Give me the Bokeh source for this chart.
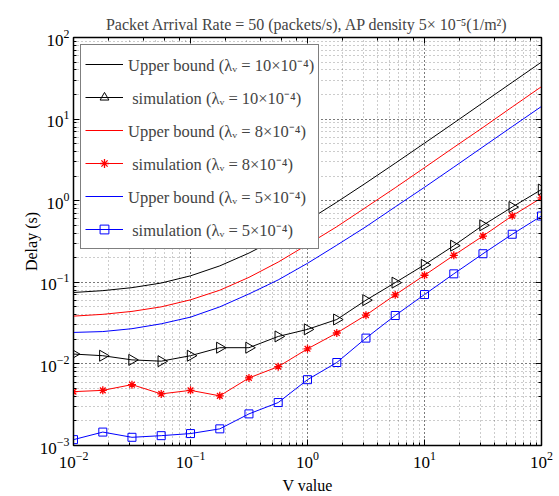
from bokeh.plotting import figure
from bokeh.models import (Range1d, LogAxis, LogTicker, CustomJSTickFormatter,
                          Legend, LegendItem)
from bokeh.embed import file_html
from bokeh.resources import INLINE
import numpy as np

# ---- data ----
V = [0.01, 0.0178, 0.0316, 0.0562, 0.1, 0.178, 0.316, 0.562, 1.0,
     1.78, 3.16, 5.62, 10.0, 17.8, 31.6, 56.2, 100.0]

ub_10 = [0.075, 0.079, 0.086, 0.098, 0.12, 0.159, 0.228, 0.35, 0.57,
         0.96, 1.65, 2.88, 5.07, 8.96, 15.9, 28.2, 50.0]
ub_8 = [0.0385, 0.0405, 0.044, 0.050, 0.061, 0.080, 0.115, 0.177, 0.29,
        0.48, 0.83, 1.44, 2.54, 4.5, 7.9, 14.1, 25.0]
ub_5 = [0.0243, 0.0249, 0.027, 0.031, 0.0374, 0.050, 0.072, 0.107, 0.171,
        0.285, 0.48, 0.84, 1.46, 2.58, 4.57, 8.1, 14.3]

sim_10 = [0.0132, 0.0126, 0.0112, 0.0108, 0.0126, 0.0158, 0.0158, 0.0217, 0.0265,
          0.035, 0.0604, 0.099, 0.164, 0.281, 0.50, 0.836, 1.37]
sim_8 = [0.00457, 0.00474, 0.00557, 0.00429, 0.00474, 0.00406, 0.00673, 0.00925, 0.0153,
         0.0239, 0.0396, 0.0702, 0.122, 0.214, 0.369, 0.653, 1.084]
sim_5 = [0.00118, 0.00146, 0.00126, 0.00132, 0.00140, 0.00160, 0.00244, 0.00336, 0.00641,
         0.0104, 0.0207, 0.0392, 0.0708, 0.127, 0.224, 0.388, 0.649]

labels = ["Upper bound (\u03bb\u1d65 = 10\u00d710\u207b\u2074)",
          " simulation (\u03bb\u1d65 = 10\u00d710\u207b\u2074)",
          "Upper bound (\u03bb\u1d65 = 8\u00d710\u207b\u2074)",
          " simulation (\u03bb\u1d65 = 8\u00d710\u207b\u2074)",
          "Upper bound (\u03bb\u1d65 = 5\u00d710\u207b\u2074)",
          " simulation (\u03bb\u1d65 = 5\u00d710\u207b\u2074)"]

title_text = "Packet Arrival Rate = 50 (packets/s), AP density 5\u00d7 10\u207b\u2075(1/m\u00b2)"

FONT = "Liberation Serif"

p = figure(width=559, height=496, x_axis_type="log", y_axis_type="log",
           x_range=Range1d(1e-2, 1e2), y_range=Range1d(1e-3, 1e2),
           output_backend="svg", toolbar_location=None,
           min_border_left=73, min_border_right=18,
           min_border_top=37, min_border_bottom=50)

p.title.text = title_text
p.title.align = "center"
p.title.text_font = FONT
p.title.text_font_size = "16px"
p.title.text_font_style = "normal"
p.title.offset = 0

p.outline_line_color = "black"
p.outline_line_width = 1.5
p.background_fill_color = "white"
p.border_fill_color = "white"

for ax in (p.xaxis[0], p.yaxis[0]):
    ax.major_label_text_font = FONT
    ax.major_label_text_font_size = "17px"
    ax.axis_label_text_font = FONT
    ax.axis_label_text_font_size = "16px"
    ax.axis_label_text_font_style = "normal"
    ax.major_tick_in = 6
    ax.major_tick_out = 0
    ax.minor_tick_in = 3
    ax.minor_tick_out = 0
    ax.axis_line_color = "black"
    ax.major_label_text_color = "black"
    ax.axis_label_text_color = "black"

p.xaxis.axis_label = "V value"
p.yaxis.axis_label = "Delay (s)"
p.xaxis.major_label_standoff = 6
p.xaxis.axis_label_standoff = 6
p.yaxis.major_label_standoff = 4
p.yaxis.axis_label_standoff = -3

blank = CustomJSTickFormatter(code="return ''")
top = LogAxis(ticker=LogTicker(), formatter=blank, major_tick_in=6, major_tick_out=0,
              minor_tick_in=3, minor_tick_out=0, axis_line_color="black")
right = LogAxis(ticker=LogTicker(), formatter=blank, major_tick_in=6, major_tick_out=0,
                minor_tick_in=3, minor_tick_out=0, axis_line_color="black")
p.add_layout(top, "above")
p.add_layout(right, "right")

for g in (p.xgrid[0], p.ygrid[0]):
    g.grid_line_color = "black"
    g.grid_line_alpha = 0.5
    g.grid_line_dash = "1 3"
    g.minor_grid_line_color = "black"
    g.minor_grid_line_alpha = 0.4
    g.minor_grid_line_dash = "1 3"

items = []
r = p.line(V, ub_10, line_color="black", line_width=1)
items.append(LegendItem(label=labels[0], renderers=[r]))
r1 = p.line(V, sim_10, line_color="black", line_width=1)
r2 = p.scatter(V, sim_10, marker="triangle", angle=-np.pi / 2, size=11,
               line_color="black", fill_color=None, line_width=1)
items.append(LegendItem(label=labels[1], renderers=[r1, r2]))

r = p.line(V, ub_8, line_color="#ff0000", line_width=1)
items.append(LegendItem(label=labels[2], renderers=[r]))
r1 = p.line(V, sim_8, line_color="#ff0000", line_width=1)
r2 = p.scatter(V, sim_8, marker="asterisk", size=8, line_color="#ff0000", line_width=1.3)
items.append(LegendItem(label=labels[3], renderers=[r1, r2]))

r = p.line(V, ub_5, line_color="#0000ff", line_width=1)
items.append(LegendItem(label=labels[4], renderers=[r]))
r1 = p.line(V, sim_5, line_color="#0000ff", line_width=1)
r2 = p.scatter(V, sim_5, marker="square", size=8, line_color="#0000ff",
               fill_color=None, line_width=1)
items.append(LegendItem(label=labels[5], renderers=[r1, r2]))

legend = Legend(items=items, location="top_left", margin=7,
                label_text_font=FONT, label_text_font_size="16.5px",
                label_height=30, glyph_height=22, glyph_width=38,
                label_standoff=5, spacing=3, padding=4,
                border_line_color="black", border_line_width=1.5,
                background_fill_color="white", background_fill_alpha=1.0)
p.add_layout(legend)

open("out.html", "w").write(file_html(p, INLINE))
